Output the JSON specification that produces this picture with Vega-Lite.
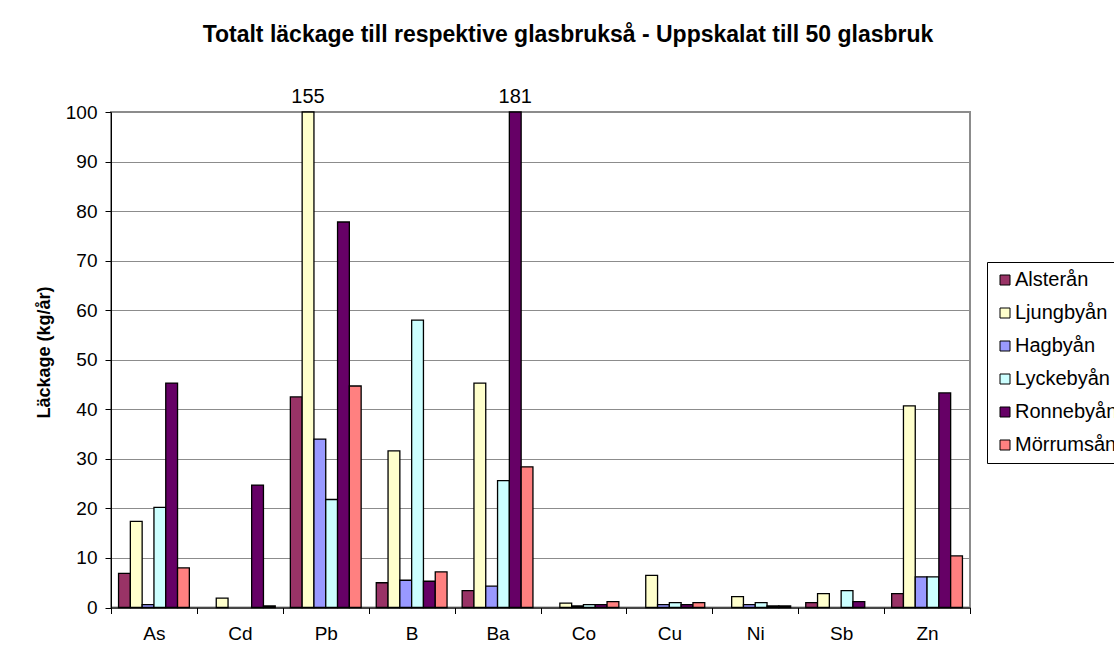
{
  "$schema": "https://vega.github.io/schema/vega-lite/v6.json",
  "width": 859,
  "height": 495.5,
  "autosize": {"type": "none"},
  "padding": {"left": 111, "top": 112, "right": 144, "bottom": 55.5},
  "background": "white",
  "title": {
    "text": "Totalt läckage till respektive glasbrukså - Uppskalat till 50 glasbruk",
    "anchor": "middle",
    "dx": 27.5,
    "offset": 22,
    "baseline": "alphabetic",
    "font": "Liberation Sans",
    "fontSize": 23,
    "fontWeight": "bold",
    "color": "black"
  },
  "data": {
    "values": [
      {"element": "As", "river": "Alsterån", "value": 6.9},
      {"element": "As", "river": "Ljungbyån", "value": 17.4},
      {"element": "As", "river": "Hagbyån", "value": 0.6},
      {"element": "As", "river": "Lyckebyån", "value": 20.2},
      {"element": "As", "river": "Ronnebyån", "value": 45.3},
      {"element": "As", "river": "Mörrumsån", "value": 8.0},
      {"element": "Cd", "river": "Ljungbyån", "value": 1.9},
      {"element": "Cd", "river": "Ronnebyån", "value": 24.7},
      {"element": "Cd", "river": "Mörrumsån", "value": 0.3},
      {"element": "Pb", "river": "Alsterån", "value": 42.5},
      {"element": "Pb", "river": "Ljungbyån", "value": 155},
      {"element": "Pb", "river": "Hagbyån", "value": 34.0},
      {"element": "Pb", "river": "Lyckebyån", "value": 21.8},
      {"element": "Pb", "river": "Ronnebyån", "value": 77.8},
      {"element": "Pb", "river": "Mörrumsån", "value": 44.7},
      {"element": "B", "river": "Alsterån", "value": 5.0},
      {"element": "B", "river": "Ljungbyån", "value": 31.6},
      {"element": "B", "river": "Hagbyån", "value": 5.5},
      {"element": "B", "river": "Lyckebyån", "value": 58.0},
      {"element": "B", "river": "Ronnebyån", "value": 5.3},
      {"element": "B", "river": "Mörrumsån", "value": 7.2},
      {"element": "Ba", "river": "Alsterån", "value": 3.4},
      {"element": "Ba", "river": "Ljungbyån", "value": 45.3},
      {"element": "Ba", "river": "Hagbyån", "value": 4.3},
      {"element": "Ba", "river": "Lyckebyån", "value": 25.6},
      {"element": "Ba", "river": "Ronnebyån", "value": 181},
      {"element": "Ba", "river": "Mörrumsån", "value": 28.4},
      {"element": "Co", "river": "Ljungbyån", "value": 0.9},
      {"element": "Co", "river": "Hagbyån", "value": 0.3},
      {"element": "Co", "river": "Lyckebyån", "value": 0.6},
      {"element": "Co", "river": "Ronnebyån", "value": 0.6},
      {"element": "Co", "river": "Mörrumsån", "value": 1.2},
      {"element": "Cu", "river": "Ljungbyån", "value": 6.5},
      {"element": "Cu", "river": "Hagbyån", "value": 0.6},
      {"element": "Cu", "river": "Lyckebyån", "value": 1.0},
      {"element": "Cu", "river": "Ronnebyån", "value": 0.6},
      {"element": "Cu", "river": "Mörrumsån", "value": 1.0},
      {"element": "Ni", "river": "Ljungbyån", "value": 2.2},
      {"element": "Ni", "river": "Hagbyån", "value": 0.6},
      {"element": "Ni", "river": "Lyckebyån", "value": 1.0},
      {"element": "Ni", "river": "Ronnebyån", "value": 0.3},
      {"element": "Ni", "river": "Mörrumsån", "value": 0.3},
      {"element": "Sb", "river": "Alsterån", "value": 1.0},
      {"element": "Sb", "river": "Ljungbyån", "value": 2.8},
      {"element": "Sb", "river": "Lyckebyån", "value": 3.4},
      {"element": "Sb", "river": "Ronnebyån", "value": 1.2},
      {"element": "Zn", "river": "Alsterån", "value": 2.8},
      {"element": "Zn", "river": "Ljungbyån", "value": 40.7},
      {"element": "Zn", "river": "Hagbyån", "value": 6.2},
      {"element": "Zn", "river": "Lyckebyån", "value": 6.2},
      {"element": "Zn", "river": "Ronnebyån", "value": 43.3},
      {"element": "Zn", "river": "Mörrumsån", "value": 10.4}
    ]
  },
  "encoding": {
    "x": {
      "field": "element",
      "type": "nominal",
      "sort": ["As", "Cd", "Pb", "B", "Ba", "Co", "Cu", "Ni", "Sb", "Zn"],
      "scale": {"paddingInner": 0, "paddingOuter": 0},
      "axis": {
        "title": null,
        "labelAngle": 0,
        "tickBand": "extent",
        "tickSize": 6,
        "tickColor": "black",
        "domainColor": "black",
        "labelPadding": 11,
        "labelFont": "Liberation Sans",
        "labelFontSize": 19,
        "labelColor": "black",
        "grid": false
      }
    },
    "xOffset": {
      "field": "river",
      "sort": ["Alsterån", "Ljungbyån", "Hagbyån", "Lyckebyån", "Ronnebyån", "Mörrumsån"],
      "scale": {"paddingInner": 0, "paddingOuter": 0.64}
    }
  },
  "layer": [
    {
      "mark": {"type": "bar", "stroke": "black", "strokeWidth": 1.3},
      "encoding": {
        "y": {
          "field": "value",
          "type": "quantitative",
          "scale": {"domain": [0, 100], "clamp": true, "nice": false},
          "axis": {
            "values": [0, 10, 20, 30, 40, 50, 60, 70, 80, 90, 100],
            "tickSize": 6,
            "tickColor": "black",
            "domainColor": "black",
            "labelPadding": 8,
            "labelFont": "Liberation Sans",
            "labelFontSize": 19,
            "labelColor": "black",
            "grid": true,
            "gridColor": "#8c8c8c",
            "gridWidth": 1,
            "title": "Läckage (kg/år)",
            "titleFont": "Liberation Sans",
            "titleFontSize": 18,
            "titleFontWeight": "bold",
            "titleColor": "black",
            "titleAngle": -90,
            "titleAlign": "center",
            "titleBaseline": "middle",
            "titleX": -67,
            "titleY": 240
          }
        },
        "color": {
          "field": "river",
          "type": "nominal",
          "scale": {
            "domain": ["Alsterån", "Ljungbyån", "Hagbyån", "Lyckebyån", "Ronnebyån", "Mörrumsån"],
            "range": ["#993366", "#FFFFCC", "#9999FF", "#CCFFFF", "#660066", "#FF8080"]
          },
          "legend": {
            "title": null,
            "orient": "none",
            "legendX": 876,
            "legendY": 150,
            "symbolType": "square",
            "symbolSize": 100,
            "symbolStrokeColor": "black",
            "symbolStrokeWidth": 1,
            "labelFont": "Liberation Sans",
            "labelFontSize": 20,
            "labelColor": "black",
            "labelOffset": 0,
            "labelLimit": 300,
            "rowPadding": 13,
            "padding": 8,
            "strokeColor": "black",
            "fillColor": "white"
          }
        }
      }
    },
    {
      "transform": [{"filter": "datum.value > 100"}],
      "mark": {
        "type": "text",
        "baseline": "alphabetic",
        "align": "center",
        "dy": -9,
        "font": "Liberation Sans",
        "fontSize": 20,
        "color": "black"
      },
      "encoding": {
        "y": {"datum": 100, "type": "quantitative"},
        "text": {"field": "value", "type": "quantitative"}
      }
    }
  ],
  "config": {
    "view": {"stroke": "#8c8c8c", "strokeWidth": 2}
  }
}
